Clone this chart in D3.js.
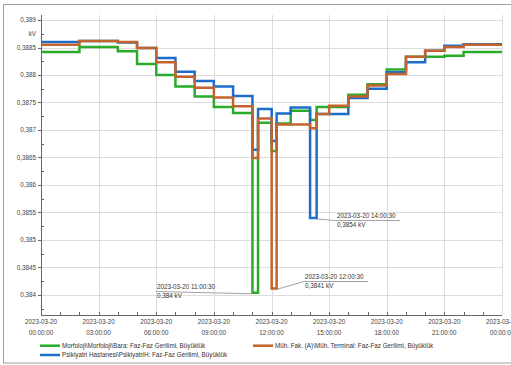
<!DOCTYPE html>
<html><head><meta charset="utf-8">
<script src="https://cdn.jsdelivr.net/npm/d3@7"></script>
<style>
body{margin:0;background:#fff}
svg{display:block}
text{font-family:"Liberation Sans",Arial,sans-serif}
</style>
</head><body>
<svg id="c" width="511" height="365"></svg>
<script>
// ---- data ----
const times = [
  "2023-03-20 00:00:00","2023-03-20 02:00:00","2023-03-20 04:00:00","2023-03-20 05:00:00",
  "2023-03-20 06:00:00","2023-03-20 07:00:00","2023-03-20 08:00:00","2023-03-20 09:00:00",
  "2023-03-20 10:00:00","2023-03-20 11:00:30","2023-03-20 11:18:00","2023-03-20 12:00:30",
  "2023-03-20 12:16:00","2023-03-20 13:00:00","2023-03-20 14:00:30","2023-03-20 14:21:00",
  "2023-03-20 15:00:00","2023-03-20 16:00:00","2023-03-20 17:00:00","2023-03-20 18:00:00",
  "2023-03-20 19:00:00","2023-03-20 20:00:00","2023-03-20 21:00:00","2023-03-20 22:00:00",
  "2023-03-21 00:00:00"
];
const greenValues = [0.38842,0.38851,0.38843,0.38820,0.38800,0.38779,0.38761,0.38742,0.38731,0.38404,0.38713,0.38662,0.38712,0.38735,0.38718,0.38742,0.38742,0.38764,0.38783,0.38810,0.38833,0.38833,0.38835,0.38842,0.38842];
const blueValues  = [0.38860,0.38862,0.38859,0.38849,0.38831,0.38806,0.38789,0.38779,0.38762,0.38664,0.38738,0.38680,0.38730,0.38741,0.38540,0.38729,0.38729,0.38758,0.38775,0.38805,0.38823,0.38844,0.38853,0.38856,0.38856];
const orangeValues= [0.38855,0.38862,0.38860,0.38849,0.38823,0.38797,0.38777,0.38759,0.38743,0.38649,0.38721,0.38412,0.38710,0.38710,0.38703,0.38729,0.38744,0.38761,0.38781,0.38802,0.38833,0.38844,0.38851,0.38855,0.38855];
const seriesNames = [
  "Morfoloji\\Morfoloji\\Bara: Faz-Faz Gerilimi, Büyüklük",
  "Psikiyatri Hastanesi\\PsikiyatriH: Faz-Faz Gerilimi, Büyüklük",
  "Müh. Fak. (A)\\Müh. Terminal: Faz-Faz Gerilimi, Büyüklük"
];
const yTicks = [0.384,0.3845,0.385,0.3855,0.386,0.3865,0.387,0.3875,0.388,0.3885,0.389];
const xTickTimes = ["2023-03-20 00:00:00","2023-03-20 03:00:00","2023-03-20 06:00:00","2023-03-20 09:00:00","2023-03-20 12:00:00","2023-03-20 15:00:00","2023-03-20 18:00:00","2023-03-20 21:00:00","2023-03-21 00:00:00"];
const unitLabel = "kV";
// annotations: series index, data index
const annotations = [
  {s:0, i:9},
  {s:2, i:11},
  {s:1, i:14}
];

// ---- chart ----
const parse = d3.timeParse("%Y-%m-%d %H:%M:%S");
const T = times.map(parse);
const colors = ["#2aab2a","#1f6dcb","#c4632e"];
const series = [greenValues, blueValues, orangeValues];

const svg = d3.select("#c");
const L=41, R=502, TOP=15, BOT=315;
const x = d3.scaleTime().domain([T[0], T[T.length-1]]).range([L,R]);
const y = d3.scaleLinear().domain([0.383636,0.389091]).range([BOT,TOP]);

// outer frame
svg.append("rect").attr("x",3.5).attr("y",4.5).attr("width",530).attr("height",358.5)
  .attr("fill","none").attr("stroke","#a0a0a0").attr("stroke-width",1);

// grid
const xt = xTickTimes.map(parse);
svg.append("g").selectAll("line").data(yTicks).join("line")
  .attr("x1",L).attr("x2",R).attr("y1",d=>Math.round(y(d))+0.5).attr("y2",d=>Math.round(y(d))+0.5)
  .attr("stroke","#dcdcdc").attr("stroke-width",1);
svg.append("g").selectAll("line").data(xt).join("line")
  .attr("y1",TOP).attr("y2",BOT).attr("x1",d=>Math.round(x(d))+0.5).attr("x2",d=>Math.round(x(d))+0.5)
  .attr("stroke","#dcdcdc").attr("stroke-width",1);

// y axis
const fmt = v => d3.format(".4~f")(v).replace(".",",");
const gy = svg.append("g");
gy.append("line").attr("x1",L+0.5).attr("x2",L+0.5).attr("y1",TOP).attr("y2",BOT).attr("stroke","#666");
gy.selectAll("line.t").data(yTicks).join("line").attr("class","t")
  .attr("x1",L-3).attr("x2",L).attr("y1",d=>Math.round(y(d))+0.5).attr("y2",d=>Math.round(y(d))+0.5).attr("stroke","#666");
const minorY = d3.range(0.38375,0.389,0.0005);
gy.selectAll("line.m").data(minorY).join("line").attr("class","m")
  .attr("x1",L).attr("x2",L+3).attr("y1",d=>Math.round(y(d))+0.5).attr("y2",d=>Math.round(y(d))+0.5).attr("stroke","#666");
gy.selectAll("text.l").data(yTicks).join("text").attr("class","l")
  .attr("x",36).attr("y",d=>y(d)).attr("dy","0.35em").attr("text-anchor","end")
  .attr("font-size",6.3).attr("fill","#444").text(fmt);
gy.append("text").attr("x",36).attr("y",y(0.38875)).attr("dy","0.35em").attr("text-anchor","end")
  .attr("font-size",6.3).attr("fill","#444").text(unitLabel);

// x axis
const gx = svg.append("g");
gx.append("line").attr("x1",L).attr("x2",R).attr("y1",BOT+0.5).attr("y2",BOT+0.5).attr("stroke","#666");
const minorX = d3.timeHour.range(T[0], T[T.length-1]);
gx.selectAll("line.m").data(minorX).join("line").attr("class","m")
  .attr("x1",d=>Math.round(x(d))+0.5).attr("x2",d=>Math.round(x(d))+0.5).attr("y1",BOT-3).attr("y2",BOT).attr("stroke","#666");
const f1 = d3.timeFormat("%Y-%m-%d"), f2 = d3.timeFormat("%H:%M:%S");
const xl = gx.selectAll("text").data(xt).join("text")
  .attr("text-anchor","middle").attr("font-size",6.3).attr("fill","#444");
xl.append("tspan").attr("x",d=>x(d)).attr("y",324).text(f1);
xl.append("tspan").attr("x",d=>x(d)).attr("y",334.5).text(f2);

// lines
const line = d3.line().curve(d3.curveStepAfter).x((d,i)=>x(T[i])).y(d=>y(d));
const order = [0,1,2];
order.forEach(k=>{
  svg.append("path").datum(series[k]).attr("d",line)
    .attr("fill","none").attr("stroke",colors[k]).attr("stroke-width",2.5).attr("stroke-linejoin","miter");
});

// annotations
const fullFmt = d3.timeFormat("%Y-%m-%d %H:%M:%S");
const annLayout = [
  {side:"left", lx:156, ly:291.5},
  {side:"right", lx:304, ly:281.5},
  {side:"right", lx:336, ly:220.5}
];
annotations.forEach((a,j)=>{
  const lay = annLayout[j];
  const v = series[a.s][a.i];
  const t1 = fullFmt(T[a.i]);
  const t2 = fmt(v)+" "+unitLabel;
  const g = svg.append("g");
  let pts;
  if(lay.side==="left"){
    const ax = x(T[a.i]), ay = y(v)+1;
    pts = [[lay.lx,lay.ly],[ax,ay]];
  } else {
    const ax = x(T[a.i+1]), ay = y(v)+1;
    pts = [[ax,ay],[lay.lx,lay.ly],[lay.lx+64,lay.ly]];
  }
  g.append("path").attr("d",d3.line()(pts)).attr("fill","none").attr("stroke","#8a8a8a").attr("stroke-width",0.8);
  g.append("text").attr("x",lay.lx+1).attr("y",lay.ly-2.3).attr("font-size",6.3).attr("fill","#333").text(t1);
  g.append("text").attr("x",lay.lx+1).attr("y",lay.ly+6.8).attr("font-size",6.3).attr("fill","#333").text(t2);
});

// legend
const legPos = [{x:40,y:345.7},{x:40,y:355},{x:253,y:345.7}];
legPos.forEach((p,k)=>{
  svg.append("line").attr("x1",p.x).attr("x2",p.x+20).attr("y1",p.y).attr("y2",p.y)
    .attr("stroke",colors[k]).attr("stroke-width",2.5);
  svg.append("text").attr("x",p.x+22).attr("y",p.y).attr("dy","0.35em")
    .attr("font-size",6.3).attr("fill","#333").text(seriesNames[k]);
});
</script>
</body></html>
